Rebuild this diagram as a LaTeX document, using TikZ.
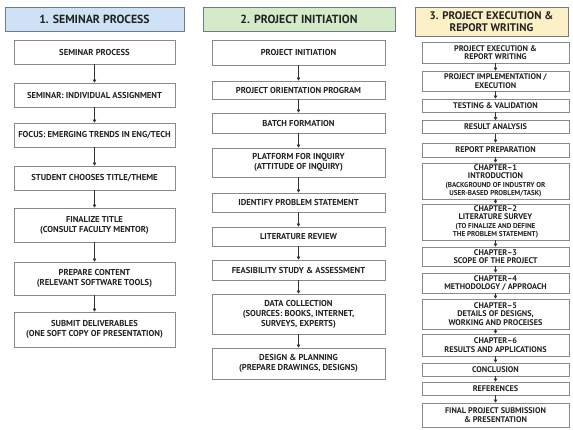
\documentclass[tikz,border=0pt]{standalone}
\usepackage{fontspec}
\setmainfont{PT Sans}
\usetikzlibrary{arrows.meta}
\definecolor{hblue}{HTML}{CFE2F5}
\definecolor{hgreen}{HTML}{D5EAC8}
\definecolor{hyellow}{HTML}{FCF0C6}
\definecolor{bord}{HTML}{8A8A8A}
\definecolor{hbord}{HTML}{6E7B88}
\definecolor{txt}{HTML}{222222}
\definecolor{arrc}{HTML}{333333}
\newcommand\psmall{\fontsize{7.1}{8.5}\selectfont}
\begin{document}
\begin{tikzpicture}[x=1pt,y=-1pt,
  box/.style={draw=bord, line width=0.8pt, fill=white, inner sep=0pt, align=center, text=txt,
    font=\bfseries\fontsize{8.6}{10}\selectfont},
  bone/.style={box, minimum width=161pt},
  btwo/.style={box, minimum width=173pt},
  bthree/.style={box, minimum width=147pt, font=\bfseries\fontsize{8.2}{8.5}\selectfont},
  hdr/.style={draw=hbord, line width=0.8pt, inner sep=0pt, align=center, text=txt,
    font=\bfseries\fontsize{11.8}{11.5}\selectfont},
  arr/.style={draw=arrc, line width=0.6pt, -{Triangle[length=3pt,width=3.5pt]}}]
\useasboundingbox[fill=white] (0,0) rectangle (573,430);

% ---------- Column 1 ----------
\node[hdr, fill=hblue, minimum width=179pt, minimum height=24pt] (c1h) at (94.5,19) {1. SEMINAR PROCESS};
\node[bone, minimum height=24pt] (c1a) at (94.5,52) {SEMINAR PROCESS};
\node[bone, minimum height=24pt] (c1b) at (94.5,95) {SEMINAR: INDIVIDUAL ASSIGNMENT};
\node[bone, minimum height=24pt] (c1c) at (94.5,135) {FOCUS: EMERGING TRENDS IN ENG/TECH};
\node[bone, minimum height=24pt] (c1d) at (94.5,178) {STUDENT CHOOSES TITLE/THEME};
\node[bone, minimum height=34pt] (c1e) at (94.5,225) {FINALIZE TITLE\\(CONSULT FACULTY MENTOR)};
\node[bone, minimum height=33pt] (c1f) at (94.5,278.5) {PREPARE CONTENT\\(RELEVANT SOFTWARE TOOLS)};
\node[bone, minimum height=35pt] (c1g) at (94.5,329.5) {SUBMIT DELIVERABLES\\(ONE SOFT COPY OF PRESENTATION)};
\foreach \a/\b in {c1a/c1b,c1b/c1c,c1c/c1d,c1d/c1e,c1e/c1f,c1f/c1g}
  \draw[arr] (\a.south) -- (\b.north);

% ---------- Column 2 ----------
\node[hdr, fill=hgreen, minimum width=192pt, minimum height=24pt] (c2h) at (299,19) {2. PROJECT INITIATION};
\node[btwo, minimum height=25pt] (c2a) at (298.5,52.5) {PROJECT INITIATION};
\node[btwo, minimum height=18pt] (c2b) at (298.5,90) {PROJECT ORIENTATION PROGRAM};
\node[btwo, minimum height=20pt] (c2c) at (298.5,123) {BATCH FORMATION};
\node[btwo, minimum height=29pt] (c2d) at (298.5,162.5) {PLATFORM FOR INQUIRY\\(ATTITUDE OF INQUIRY)};
\node[btwo, minimum height=19pt] (c2e) at (298.5,202.5) {IDENTIFY PROBLEM STATEMENT};
\node[btwo, minimum height=19pt] (c2f) at (298.5,236.5) {LITERATURE REVIEW};
\node[btwo, minimum height=20pt] (c2g) at (298.5,270) {FEASIBILITY STUDY \& ASSESSMENT};
\node[btwo, minimum height=40pt] (c2h2) at (298.5,314) {DATA COLLECTION\\(SOURCES: BOOKS, INTERNET,\\SURVEYS, EXPERTS)};
\node[btwo, minimum height=31pt] (c2i) at (298.5,363.5) {DESIGN \& PLANNING\\(PREPARE DRAWINGS, DESIGNS)};
\foreach \a/\b in {c2a/c2b,c2b/c2c,c2c/c2d,c2d/c2e,c2e/c2f,c2f/c2g,c2g/c2h2,c2h2/c2i}
  \draw[arr] (\a.south) -- (\b.north);

% ---------- Column 3 ----------
\node[hdr, fill=hyellow, minimum width=153pt, minimum height=29pt, font=\bfseries\fontsize{11}{11.5}\selectfont] (c3h) at (491.5,21.5) {3. PROJECT EXECUTION \&\\REPORT WRITING};
\node[bthree, minimum height=21pt] (c3a) at (495.5,52.5) {PROJECT EXECUTION \&\\REPORT WRITING};
\node[bthree, minimum height=20pt] (c3b) at (495.5,81) {PROJECT IMPLEMENTATION /\\EXECUTION};
\node[bthree, minimum height=13pt] (c3c) at (495.5,105.5) {TESTING \& VALIDATION};
\node[bthree, minimum height=13pt] (c3d) at (495.5,127) {RESULT ANALYSIS};
\node[bthree, minimum height=14pt] (c3e) at (495.5,150) {REPORT PREPARATION};
\node[bthree, minimum height=36pt] (c3f) at (495.5,181) {CHAPTER–1\\INTRODUCTION\\{\psmall(BACKGROUND OF INDUSTRY OR}\\{\psmall USER-BASED PROBLEM/TASK)}};
\node[bthree, minimum height=36pt] (c3g) at (495.5,222) {CHAPTER–2\\LITERATURE SURVEY\\{\psmall(TO FINALIZE AND DEFINE}\\{\psmall THE PROBLEM STATEMENT)}};
\node[bthree, minimum height=19pt] (c3h2) at (495.5,256.5) {CHAPTER–3\\SCOPE OF THE PROJECT};
\node[bthree, minimum height=20pt] (c3i) at (495.5,283) {CHAPTER–4\\METHODOLOGY / APPROACH};
\node[bthree, minimum height=30pt] (c3j) at (495.5,314) {CHAPTER–5\\DETAILS OF DESIGNS,\\WORKING AND PROCEISES};
\node[bthree, minimum height=22pt] (c3k) at (495.5,345) {CHAPTER–6\\RESULTS AND APPLICATIONS};
\node[bthree, minimum height=13pt] (c3l) at (495.5,369.5) {CONCLUSION};
\node[bthree, minimum height=13pt] (c3m) at (495.5,388.5) {REFERENCES};
\node[bthree, minimum height=24pt] (c3n) at (495.5,415) {FINAL PROJECT SUBMISSION\\\& PRESENTATION};
\foreach \a/\b in {c3a/c3b,c3b/c3c,c3c/c3d,c3d/c3e,c3e/c3f,c3f/c3g,c3g/c3h2,c3h2/c3i,c3i/c3j,c3j/c3k,c3k/c3l,c3l/c3m,c3m/c3n}
  \draw[arr] (\a.south) -- (\b.north);
\end{tikzpicture}
\end{document}
